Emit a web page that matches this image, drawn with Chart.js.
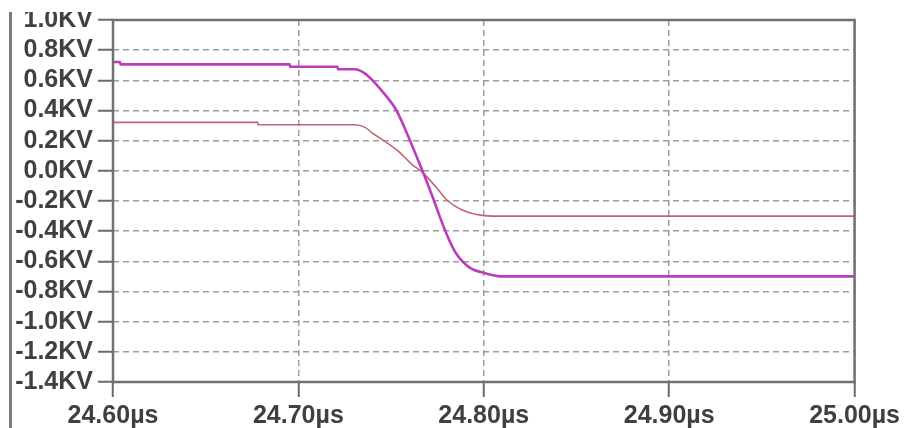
<!DOCTYPE html>
<html>
<head>
<meta charset="utf-8">
<script src="https://cdn.jsdelivr.net/npm/chart.js@4"></script>
<style>
    html, body { margin: 0; padding: 0; background: #fff; }
    #wrap { position: absolute; left: 0; top: 12px; width: 904px; height: 416px; overflow: hidden; }
    #holder { position: absolute; left: 0; top: -12px; width: 904px; height: 428px; }
    #edge { position: absolute; left: 9px; top: 12px; width: 3px; height: 416px; background: #7a7a7a; }
</style>
</head>
<body>
<div id="wrap"><div id="holder"><canvas id="scopeChart" width="904" height="428"></canvas></div></div>
<div id="edge"></div>
<script>
// Sumbu waktu (µs) dan tegangan (KV)
const xTicks = [24.60, 24.70, 24.80, 24.90, 25.00];
const yMin = -1.4;
const yMax = 1.0;

// Kurva ungu (tebal)
const timeA = [24.6000, 24.6038, 24.6040, 24.6953, 24.6955, 24.7211, 24.7213, 24.7303, 24.7360, 24.7400,
               24.7464, 24.7529, 24.7599, 24.7669, 24.7723, 24.7777, 24.7814, 24.7852, 24.7922, 24.8013,
               24.8100, 25.0000];
const voltA = [0.722, 0.722, 0.706, 0.706, 0.690, 0.690, 0.673, 0.673, 0.645, 0.600,
               0.510, 0.400, 0.210, 0.000, -0.170, -0.350, -0.460, -0.550, -0.640, -0.680,
               -0.700, -0.700];

// Kurva merah muda (tipis)
const timeB = [24.6000, 24.6781, 24.6783, 24.7303, 24.7357, 24.7400, 24.7529, 24.7615, 24.7669, 24.7744,
               24.7798, 24.7884, 24.7960, 24.8046, 25.0000];
const voltB = [0.321, 0.321, 0.306, 0.306, 0.290, 0.250, 0.140, 0.040, -0.010, -0.110,
               -0.190, -0.260, -0.290, -0.300, -0.300];

function toPoints(xs, ys) {
    return xs.map((x, i) => ({ x: x, y: ys[i] }));
}

// Bingkai area plot
const framePlugin = {
    id: 'frame',
    afterDatasetsDraw(chart) {
        const a = chart.chartArea;
        const ctx = chart.ctx;
        ctx.save();
        ctx.strokeStyle = '#707070';
        ctx.lineWidth = 2.5;
        ctx.strokeRect(a.left, a.top, a.right - a.left, a.bottom - a.top);
        ctx.restore();
    }
};

const font = { family: "'Liberation Sans', Arial, sans-serif", size: 25, weight: 'bold' };

const ctx = document.getElementById('scopeChart').getContext('2d');
new Chart(ctx, {
    type: 'line',
    data: {
        datasets: [{
            data: toPoints(timeA, voltA),
            borderColor: '#bd3cbd',
            borderWidth: 2.6,
            pointRadius: 0,
            cubicInterpolationMode: 'monotone'
        }, {
            data: toPoints(timeB, voltB),
            borderColor: '#c2646e',
            borderWidth: 1.6,
            pointRadius: 0,
            cubicInterpolationMode: 'monotone'
        }]
    },
    options: {
        responsive: false,
        animation: false,
        layout: { padding: { top: 19, right: 48, left: 0, bottom: 0 } },
        plugins: { legend: { display: false }, tooltip: { enabled: false } },
        scales: {
            x: {
                type: 'linear',
                min: 24.6,
                max: 25.0,
                afterBuildTicks: scale => { scale.ticks = xTicks.map(v => ({ value: v })); },
                afterFit: scale => { scale.height = 46; },
                ticks: {
                    color: '#404040',
                    font: font,
                    padding: 4,
                    maxRotation: 0,
                    autoSkip: false,
                    callback: v => v.toFixed(2) + 'µs'
                },
                grid: {
                    color: '#9c9c9c',
                    lineWidth: 1.5,
                    drawTicks: true,
                    tickLength: 15,
                    tickColor: '#6a6a6a',
                    tickWidth: 2,
                    tickBorderDash: []
                },
                border: { display: false, dash: [6, 4] }
            },
            y: {
                min: yMin,
                max: yMax,
                afterFit: scale => { scale.width = 113; },
                ticks: {
                    stepSize: 0.2,
                    autoSkip: false,
                    color: '#404040',
                    font: font,
                    padding: 5,
                    callback: v => v.toFixed(1) + 'KV'
                },
                grid: {
                    color: '#9c9c9c',
                    lineWidth: 1.5,
                    drawTicks: true,
                    tickLength: 15,
                    tickColor: '#6a6a6a',
                    tickWidth: 2,
                    tickBorderDash: []
                },
                border: { display: false, dash: [6, 4] }
            }
        }
    },
    plugins: [framePlugin]
});
</script>
</body>
</html>
